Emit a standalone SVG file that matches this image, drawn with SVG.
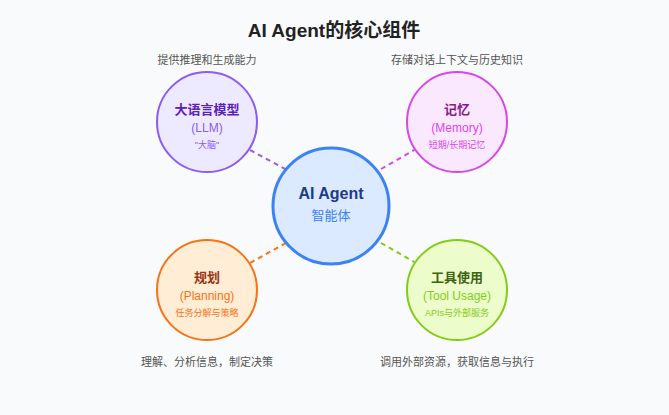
<svg xmlns="http://www.w3.org/2000/svg" width="669" height="415" viewBox="0 0 669 415">
<style>
text{font-family:"Liberation Sans","Noto Sans CJK SC",sans-serif;text-anchor:middle}
.t{font-size:13px;font-weight:bold}
.s{font-size:12px}
.x{font-size:9px}
.c{font-size:11px;fill:#555}
.l{stroke-width:2;stroke-dasharray:5,4;fill:none}
</style>
<rect width="669" height="415" fill="#f9fafb"/>
<text x="334" y="37" style="font-size:19px;font-weight:bold" fill="#222">AI Agent的核心组件</text>
<g id="connectors">
<line class="l" x1="250" y1="150" x2="287" y2="170" stroke="#9d5cf0"/>
<line class="l" x1="381" y1="169" x2="416" y2="149" stroke="#d946ef"/>
<line class="l" x1="286" y1="243" x2="250" y2="263" stroke="#f97316"/>
<line class="l" x1="381" y1="243" x2="416" y2="263" stroke="#84cc16"/>
</g>
<g id="center">
<circle cx="331" cy="206" r="58" fill="#dbeafe" stroke="#3b82f6" stroke-width="3"/>
<text x="331" y="199" style="font-size:16px;font-weight:bold" fill="#1e3a8a">AI Agent</text>
<text x="331" y="220" style="font-size:13px" fill="#3b82f6">智能体</text>
</g>
<g id="llm">
<circle cx="207" cy="122" r="50" fill="#ede9fe" stroke="#8b5cf6" stroke-width="2"/>
<text class="t" x="207" y="114" fill="#5b21b6">大语言模型</text>
<text class="s" x="207" y="132" fill="#8b5cf6">(LLM)</text>
<text class="x" x="207" y="148" fill="#8b5cf6">"大脑"</text>
<text class="c" x="207" y="64">提供推理和生成能力</text>
</g>
<g id="memory">
<circle cx="457" cy="122" r="50" fill="#fae8ff" stroke="#d946ef" stroke-width="2"/>
<text class="t" x="457" y="114" fill="#86198f">记忆</text>
<text class="s" x="457" y="132" fill="#d946ef">(Memory)</text>
<text class="x" x="457" y="148" fill="#d946ef">短期/长期记忆</text>
<text class="c" x="457" y="64">存储对话上下文与历史知识</text>
</g>
<g id="planning">
<circle cx="207" cy="290" r="50" fill="#ffedd5" stroke="#f97316" stroke-width="2"/>
<text class="t" x="207" y="282" fill="#9a3412">规划</text>
<text class="s" x="207" y="300" fill="#f97316">(Planning)</text>
<text class="x" x="207" y="316" fill="#f97316">任务分解与策略</text>
<text class="c" x="207" y="366">理解、分析信息，制定决策</text>
</g>
<g id="tools">
<circle cx="457" cy="290" r="50" fill="#ecfccb" stroke="#84cc16" stroke-width="2"/>
<text class="t" x="457" y="282" fill="#3f6212">工具使用</text>
<text class="s" x="457" y="300" fill="#84cc16">(Tool Usage)</text>
<text class="x" x="457" y="316" fill="#84cc16">APIs与外部服务</text>
<text class="c" x="457" y="366">调用外部资源，获取信息与执行</text>
</g>
</svg>
